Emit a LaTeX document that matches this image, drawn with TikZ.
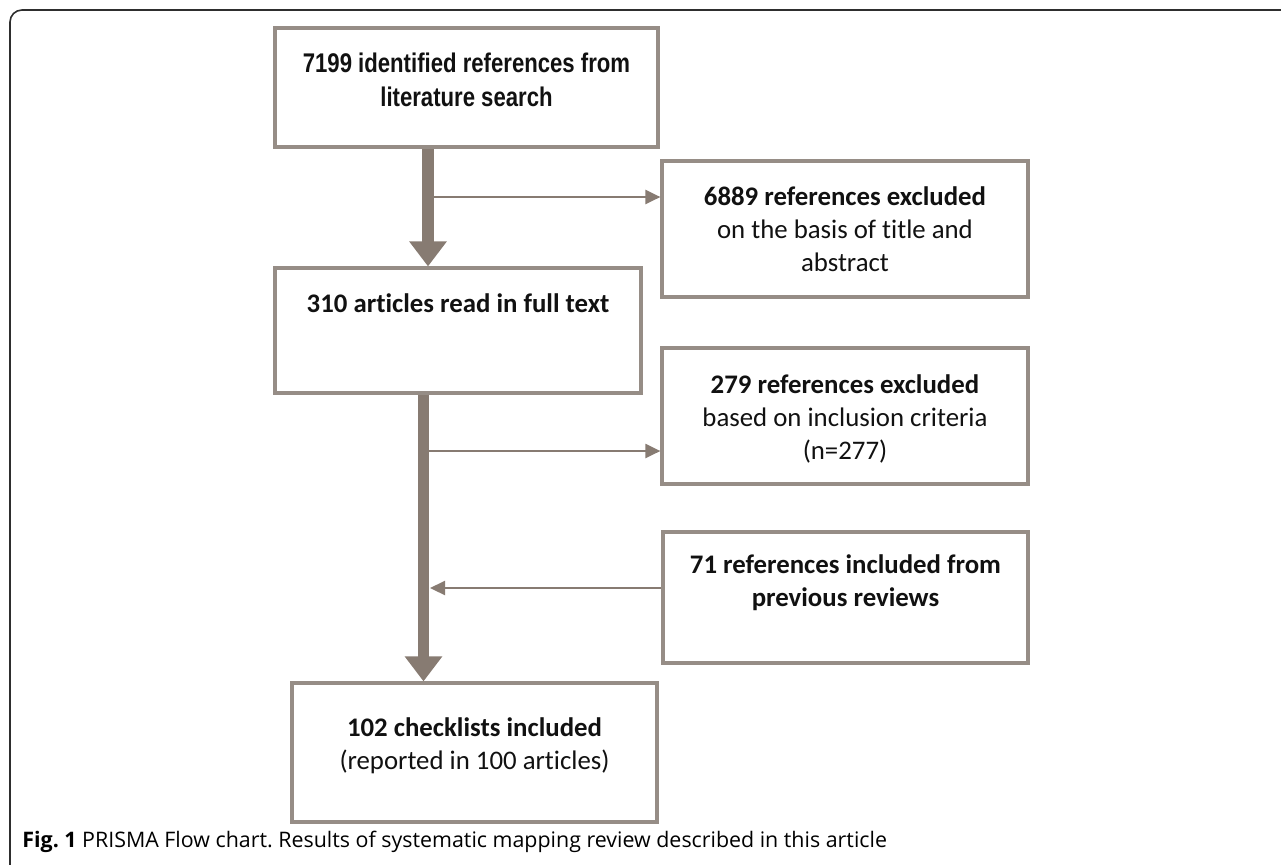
\documentclass[tikz,border=0pt]{standalone}
\usepackage{fontspec}
\setmainfont{Carlito}[Ligatures=NoCommon]
\newfontfamily\narrowfont[FakeStretch=0.82]{Liberation Sans}
\newfontfamily\capfont{Open Sans}
\usepackage{xcolor}
\usepackage{tikz}
\usetikzlibrary{calc,arrows.meta}
\frenchspacing
\definecolor{frame}{HTML}{2E2E2E}
\definecolor{edge}{HTML}{968D86}
\definecolor{flow}{HTML}{877B72}
\definecolor{ink}{HTML}{111111}
\tikzset{
  box/.style={draw=edge, line width=1.6pt, fill=white, inner sep=0pt},
  txt/.style={text=ink, align=center, inner sep=0pt, font=\fontsize{13.4}{16.5}\selectfont},
  txtn/.style={text=ink, align=center, inner sep=0pt, font=\narrowfont\bfseries\fontsize{13.5}{17}\selectfont},
  bigarrow/.style={draw=flow, line width=5.75pt, -{Triangle[width=18pt,length=12.5pt]}},
  smallarrow/.style={draw=flow, line width=1.1pt, -{Triangle[width=7pt,length=7.5pt]}},
  outline/.style={draw=frame, line width=0.8pt, rounded corners=6pt},
  caption/.style={text=black, inner sep=0pt, font=\capfont\fontsize{10.7}{12}\selectfont},
}

\begin{document}
\begin{tikzpicture}[x=0.5pt, y=-0.5pt]
  \useasboundingbox (0,0) rectangle (1281,864);
  \draw[outline] (1290,10) -- (10,10) -- (10,875);
  % boxes
  \node[box, minimum width=191.5pt, minimum height=59.5pt] (b1) at (466.5,87.5) {};
  \node[box, minimum width=183pt, minimum height=68pt] (b2) at (845,229) {};
  \node[box, minimum width=183pt, minimum height=62.5pt] (b3) at (458,330.5) {};
  \node[box, minimum width=183pt, minimum height=68pt] (b4) at (845,416) {};
  \node[box, minimum width=182.5pt, minimum height=65.5pt] (b5) at (845.5,597.5) {};
  \node[box, minimum width=182.5pt, minimum height=69.5pt] (b6) at (474.5,752.5) {};
  % texts
  \node[txtn] (t1) at ([yshift=3.75pt]b1.center) {7199 identified references from\\literature search};
  \node[txt] (t2) at (b2.center) {\textbf{6889 references excluded}\\on the basis of title and\\abstract};
  \node[txt] (t3) at ([yshift=13.75pt]b3.center) {\textbf{310 articles read in full text}};
  \node[txt] (t4) at ([yshift=-1.5pt]b4.center) {\textbf{279 references excluded}\\based on inclusion criteria\\(n=277)};
  \node[txt] (t5) at ([yshift=7.25pt]b5.center) {\textbf{71 references included from}\\\textbf{previous reviews}};
  \node[txt] (t6) at ([yshift=3.25pt]b6.center) {\textbf{102 checklists included}\\(reported in 100 articles)};
  % main flow
  \coordinate (sp1) at (428,0);
  \coordinate (sp2) at (423.5,0);
  \draw[bigarrow] (b1.south -| sp1) -- (b3.north -| sp1);
  \draw[bigarrow] (b3.south -| sp2) -- (b6.north -| sp2);
  % side branches
  \coordinate (j1) at (428,197);
  \coordinate (j2) at (423.5,451);
  \coordinate (j3) at (430,588);
  \draw[smallarrow] (j1) -- (j1 -| b2.west);
  \draw[smallarrow] (j2) -- (j2 -| b4.west);
  \draw[smallarrow] (j3 -| b5.west) -- (j3);
  \node[caption, anchor=base west] (cap) at (22,847) {\textbf{Fig. 1} PRISMA Flow chart. Results of systematic mapping review described in this article};
\end{tikzpicture}
\end{document}
